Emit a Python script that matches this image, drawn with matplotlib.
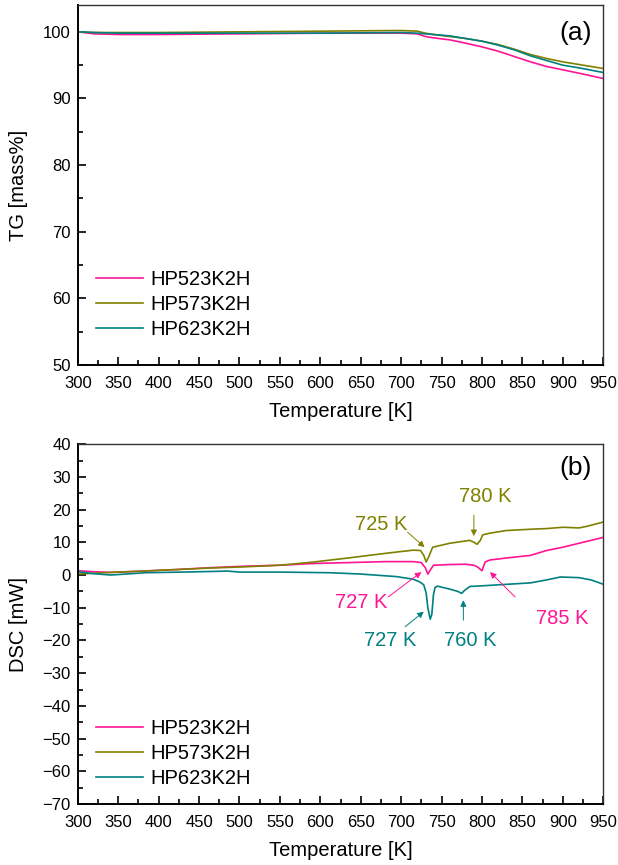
import matplotlib.pyplot as plt
from matplotlib.ticker import MultipleLocator

plt.rcParams['font.family'] = ['Liberation Sans', 'DejaVu Sans']

# ─── Data ───
labels = ['HP523K2H', 'HP573K2H', 'HP623K2H']
colors = ['#FF1493', '#808000', '#008080']

# TG curves (mass %)
tg_T = [300, 320, 350, 400, 500, 600, 700, 720, 730, 740, 760, 780, 800,
        820, 840, 860, 880, 900, 920, 950]
tg_523 = [100.0, 99.7, 99.6, 99.6, 99.7, 99.8, 99.8, 99.7, 99.3, 99.1, 98.8,
          98.3, 97.75, 97.1, 96.3, 95.5, 94.8, 94.3, 93.8, 93.0]
tg_573 = [100.0, 99.9, 99.9, 99.9, 100.0, 100.1, 100.2, 100.1, 99.8, 99.6,
          99.3, 99.0, 98.6, 98.1, 97.4, 96.6, 96.0, 95.5, 95.1, 94.5]
tg_623 = [100.0, 99.9, 99.8, 99.8, 99.8, 99.8, 99.9, 99.8, 99.7, 99.6, 99.4,
          99.0, 98.6, 98.0, 97.3, 96.4, 95.7, 95.0, 94.6, 93.9]

# DSC curves (mW)
dsc_T_523 = [300, 320, 341, 380, 424, 460, 506, 550, 589, 634, 680, 715, 725,
             730, 733, 736, 740, 760, 780, 790, 795, 800, 804, 810, 830, 860,
             880, 900, 920, 950]
dsc_523 = [1.3, 1.0, 0.8, 1.2, 1.7, 2.2, 2.7, 3.0, 3.5, 3.8, 4.1, 4.1, 3.8,
           2.2, 0.3, 1.5, 3.0, 3.2, 3.3, 3.0, 2.4, 1.3, 4.0, 4.6, 5.2, 6.0,
           7.5, 8.5, 9.7, 11.5]

dsc_T_573 = [300, 341, 380, 424, 460, 506, 550, 589, 634, 660, 690, 715, 724,
             728, 731, 734, 739, 760, 785, 790, 794, 798, 801, 810, 830, 860,
             880, 900, 920, 930, 950]
dsc_573 = [0.3, 0.8, 1.2, 1.7, 2.1, 2.5, 3.0, 3.9, 5.2, 6.0, 6.9, 7.6, 7.5,
           6.0, 4.0, 5.5, 8.5, 9.7, 10.6, 10.0, 9.4, 10.6, 12.3, 12.8, 13.6,
           14.0, 14.2, 14.6, 14.4, 14.9, 16.2]

dsc_T_623 = [300, 320, 341, 383, 430, 486, 500, 550, 612, 650, 695, 715, 723,
             728, 731, 733, 736, 738, 740, 742, 745, 760, 770, 775, 778, 785,
             800, 820, 860, 880, 897, 920, 935, 950]
dsc_623 = [1.0, 0.4, 0.0, 0.7, 0.9, 1.2, 0.9, 0.9, 0.7, 0.3, -0.5, -1.3, -2.1,
           -3.0, -5.5, -10.0, -13.5, -12.0, -6.0, -3.8, -3.4, -4.3, -5.0, -5.6,
           -4.8, -3.5, -3.3, -3.0, -2.4, -1.5, -0.6, -0.8, -1.5, -2.8]

# Peak annotations: (text, colour index, text pos, arrow tail, arrow tip)
peaks = [
    ('725 K', 1, (675, 15.3), (708, 13.1), (729, 8.5)),
    ('780 K', 1, (804, 24.1), (790, 18.3), (790, 11.9)),
    ('727 K', 0, (651, -8.3), (684, -6.7), (725, 0.9)),
    ('785 K', 0, (899, -13.2), (841, -6.7), (810, 0.9)),
    ('727 K', 2, (686, -19.9), (705, -15.8), (728, -11.2)),
    ('760 K', 2, (785, -19.9), (777, -13.8), (777, -7.7)),
]

# ─── Figure ───
fig = plt.figure(figsize=(6.18, 8.65), dpi=100)
ax_a = fig.add_axes([0.126, 0.578, 0.850, 0.416])
ax_b = fig.add_axes([0.126, 0.0705, 0.850, 0.416])

lab_fs = 14.5


def style_axes(ax, ymin, ymax):
    ax.set_xlim(300, 950)
    ax.set_ylim(ymin, ymax)
    ax.xaxis.set_major_locator(MultipleLocator(50))
    ax.xaxis.set_minor_locator(MultipleLocator(25))
    ax.yaxis.set_major_locator(MultipleLocator(10))
    ax.yaxis.set_minor_locator(MultipleLocator(5))
    ax.tick_params(which='both', direction='in', top=False, right=False,
                   labelsize=12, width=1.2)
    ax.tick_params(axis='x', pad=8)
    ax.tick_params(axis='y', pad=5)
    ax.tick_params(which='major', length=6)
    ax.tick_params(which='minor', length=3.5)
    for side in ['left', 'bottom']:
        ax.spines[side].set_linewidth(1.4)
    for side in ['top', 'right']:
        ax.spines[side].set_linewidth(1.0)
        ax.spines[side].set_color('#333333')
    ax.set_xlabel('Temperature [K]', fontsize=lab_fs, labelpad=8)
    ax.yaxis.set_label_coords(-0.095, 0.5)


def add_legend(ax, y0):
    ax.legend(loc='lower left', bbox_to_anchor=(0.008, y0), frameon=False,
              fontsize=lab_fs, handlelength=2.35, handletextpad=0.35,
              labelspacing=0.3, borderaxespad=0.3)


# Panel (a): TG
style_axes(ax_a, 50, 104)
for y, c, lab in zip([tg_523, tg_573, tg_623], colors, labels):
    ax_a.plot(tg_T, y, color=c, lw=1.2, label=lab)
ax_a.set_ylabel('TG [mass%]', fontsize=lab_fs)
ax_a.text(0.947, 0.924, '(a)', transform=ax_a.transAxes, fontsize=19,
          ha='center', va='center')
add_legend(ax_a, 0.034)

# Panel (b): DSC
style_axes(ax_b, -70, 40)
for T, y, c, lab in zip([dsc_T_523, dsc_T_573, dsc_T_623],
                        [dsc_523, dsc_573, dsc_623], colors, labels):
    ax_b.plot(T, y, color=c, lw=1.2, label=lab)
ax_b.set_ylabel('DSC [mW]', fontsize=lab_fs)
ax_b.text(0.947, 0.933, '(b)', transform=ax_b.transAxes, fontsize=19,
          ha='center', va='center')
add_legend(ax_b, 0.004)

for txt, ci, tpos, tail, tip in peaks:
    c = colors[ci]
    ax_b.text(tpos[0], tpos[1], txt, color=c, fontsize=lab_fs,
              ha='center', va='center')
    ax_b.annotate('', xy=tip, xytext=tail,
                  arrowprops=dict(arrowstyle='-|>', color=c, lw=0.7,
                                  mutation_scale=9, shrinkA=0, shrinkB=0))

fig.savefig('out.png', dpi=100, facecolor='white')
